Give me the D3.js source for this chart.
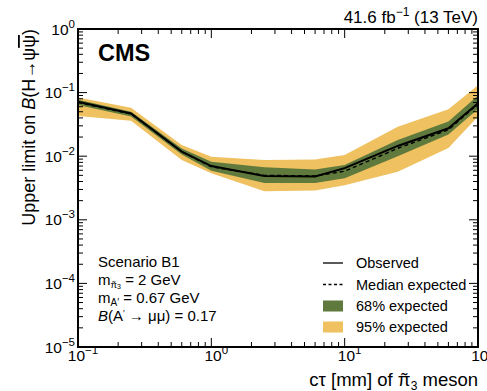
<!DOCTYPE html>
<html><head><meta charset="utf-8">
<script src="https://cdn.jsdelivr.net/npm/d3@7/dist/d3.min.js"></script>
<style>body{margin:0;background:#fff}svg{display:block;font-family:"Liberation Sans",Arial,sans-serif}</style>
</head><body><svg id="c" width="487" height="391"></svg>
<script>
const ctau      = [0.1, 0.25, 0.6, 1, 2.5, 6, 10, 25, 60, 100];
const observed  = [0.072, 0.047, 0.0118, 0.0070, 0.0049, 0.0048, 0.0065, 0.0145, 0.0275, 0.068];
const expected  = [0.070, 0.046, 0.0118, 0.0068, 0.0050, 0.0049, 0.0058, 0.0133, 0.026, 0.066];
const band68Lo  = [0.064, 0.042, 0.0106, 0.0059, 0.0038, 0.0038, 0.0045, 0.0100, 0.022, 0.055];
const band68Hi  = [0.077, 0.050, 0.0132, 0.0082, 0.0067, 0.0062, 0.0073, 0.0180, 0.035, 0.090];
const band95Lo  = [0.043, 0.036, 0.0087, 0.0054, 0.0028, 0.0029, 0.0035, 0.0057, 0.0135, 0.042];
const band95Hi  = [0.084, 0.058, 0.0150, 0.0098, 0.0087, 0.0089, 0.0104, 0.0290, 0.0546, 0.130];
const xDecades  = [-1, 0, 1, 2];
const yDecades  = [-5, -4, -3, -2, -1, 0];
const legendLabels = ["Observed", "Median expected", "68% expected", "95% expected"];

const L = 78, R = 478, T = 29, B = 347;
const svg = d3.select("#c");
const x = d3.scaleLog().domain([0.1, 100]).range([L, R]);
const y = d3.scaleLog().domain([1e-5, 1]).range([B, T]);
const GREEN = "#5f7a3c", YELLOW = "#efc160";

const rows = ctau.map((c, i) => ({c, o: observed[i], e: expected[i], g0: band68Lo[i], g1: band68Hi[i], y0: band95Lo[i], y1: band95Hi[i]}));

svg.append("path").datum(rows).attr("fill", YELLOW)
  .attr("d", d3.area().x(d => x(d.c)).y0(d => y(d.y0)).y1(d => y(d.y1)));
svg.append("path").datum(rows).attr("fill", GREEN)
  .attr("d", d3.area().x(d => x(d.c)).y0(d => y(d.g0)).y1(d => y(d.g1)));
svg.append("path").datum(rows).attr("fill", "none").attr("stroke", "#000").attr("stroke-width", 1.4)
  .attr("stroke-dasharray", "4,3")
  .attr("d", d3.line().x(d => x(d.c)).y(d => y(d.e)));
svg.append("path").datum(rows).attr("fill", "none").attr("stroke", "#000").attr("stroke-width", 2)
  .attr("d", d3.line().x(d => x(d.c)).y(d => y(d.o)));

// ticks
const tk = svg.append("g").attr("stroke", "#000").attr("stroke-width", 1);
const isMajor = v => Math.abs(Math.log10(v) - Math.round(Math.log10(v))) < 1e-6;
x.ticks().forEach(v => {
  const len = isMajor(v) ? 9 : 5;
  tk.append("line").attr("x1", x(v)).attr("x2", x(v)).attr("y1", B).attr("y2", B - len);
  tk.append("line").attr("x1", x(v)).attr("x2", x(v)).attr("y1", T).attr("y2", T + len);
});
y.ticks().forEach(v => {
  const len = isMajor(v) ? 9 : 5;
  tk.append("line").attr("y1", y(v)).attr("y2", y(v)).attr("x1", L).attr("x2", L + len);
  tk.append("line").attr("y1", y(v)).attr("y2", y(v)).attr("x1", R).attr("x2", R - len);
});
svg.append("rect").attr("x", L).attr("y", T).attr("width", R - L).attr("height", B - T)
  .attr("fill", "none").attr("stroke", "#000").attr("stroke-width", 2);

function powLabel(g, e, px, py, anchor) {
  const t = g.append("text").attr("x", px).attr("y", py).attr("text-anchor", anchor)
    .attr("font-size", 15.5).attr("fill", "#000");
  t.append("tspan").text("10");
  t.append("tspan").attr("dy", -7).attr("font-size", 11.5).text(e < 0 ? "\u2212" + (-e) : String(e));
}
const lab = svg.append("g");
xDecades.forEach(e => powLabel(lab, e, x(Math.pow(10, e)) + 5, 361, "middle"));
yDecades.forEach(e => powLabel(lab, e, 75, y(Math.pow(10, e)) + 5.5, "end"));

// tilde accent drawn over a given character of a text element
function addTilde(textSel, idx, baseline, fs) {
  const r = textSel.node().getExtentOfChar(idx);
  svg.append("text").attr("x", r.x + r.width / 2).attr("y", baseline)
    .attr("text-anchor", "middle").attr("font-size", fs).text("\u02DC");
}

// titles
const xt = svg.append("text").attr("x", R).attr("y", 386).attr("text-anchor", "end").attr("font-size", 18.5);
xt.append("tspan").text("c\u03C4 [mm] of \u03C0");
xt.append("tspan").attr("dy", 4).attr("font-size", 12).text("3");
xt.append("tspan").attr("dy", -4).text(" meson");
addTilde(xt, 11, 386, 18.5);

const yt = svg.append("text").attr("transform", `translate(35,${T}) rotate(-90)`).attr("text-anchor", "end").attr("font-size", 18);
yt.append("tspan").text("Upper limit on ");
yt.append("tspan").attr("font-style", "italic").text("B");
yt.append("tspan").text("(H\u2192\u03C8");
yt.append("tspan").attr("text-decoration", "overline").text("\u03C8");
yt.append("tspan").text(")");

svg.append("text").attr("x", R).attr("y", 23).attr("text-anchor", "end").attr("font-size", 17)
  .call(t => { t.append("tspan").text("41.6 fb"); t.append("tspan").attr("dy", -7).attr("font-size", 12).text("\u22121");
               t.append("tspan").attr("dy", 7).text(" (13 TeV)"); });

svg.append("text").attr("x", 98).attr("y", 61).attr("font-size", 23.5).attr("font-weight", "bold").text("CMS");

// annotation
const ann = svg.append("g").attr("font-size", 15);
ann.append("text").attr("x", 98).attr("y", 267).text("Scenario B1");
const mpi = ann.append("text").attr("x", 98).attr("y", 285).call(t => {
  t.append("tspan").text("m");
  t.append("tspan").attr("dy", 2.5).attr("font-size", 9.5).text("\u03C0");
  t.append("tspan").attr("dy", 1.5).attr("font-size", 7).text("3");
  t.append("tspan").attr("dy", -4).text(" = 2 GeV");
});
addTilde(mpi, 1, 287.5, 9.5);
ann.append("text").attr("x", 98).attr("y", 303).call(t => {
  t.append("tspan").text("m");
  t.append("tspan").attr("dy", 3).attr("font-size", 10).text("A\u2032");
  t.append("tspan").attr("dy", -3).text(" = 0.67 GeV");
});
ann.append("text").attr("x", 98).attr("y", 321).call(t => {
  t.append("tspan").attr("font-style", "italic").text("B");
  t.append("tspan").text("(A");
  t.append("tspan").attr("font-size", 9).attr("dy", -5).text("\u2032");
  t.append("tspan").attr("dy", 5).text(" \u2192 \u03BC\u03BC) = 0.17");
});

// legend
const lg = svg.append("g").attr("font-size", 14.5);
const ly = [263, 284.5, 306, 327];
lg.append("line").attr("x1", 323).attr("x2", 343).attr("y1", ly[0]).attr("y2", ly[0]).attr("stroke", "#000").attr("stroke-width", 1.3);
lg.append("line").attr("x1", 323).attr("x2", 343).attr("y1", ly[1]).attr("y2", ly[1]).attr("stroke", "#000").attr("stroke-width", 1.3).attr("stroke-dasharray", "3,2.5");
lg.append("rect").attr("x", 323).attr("y", ly[2] - 5.5).attr("width", 20).attr("height", 11).attr("fill", GREEN);
lg.append("rect").attr("x", 323).attr("y", ly[3] - 5.5).attr("width", 20).attr("height", 11).attr("fill", YELLOW);
legendLabels.forEach((s, i) => lg.append("text").attr("x", 356).attr("y", ly[i] + 5).text(s));
</script></body></html>
